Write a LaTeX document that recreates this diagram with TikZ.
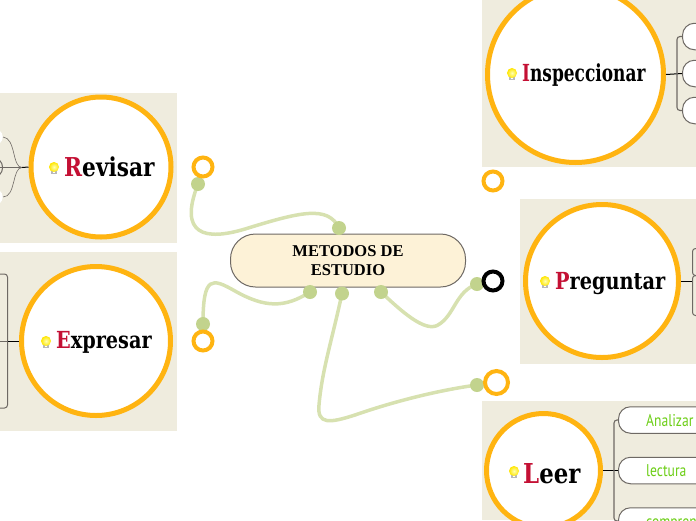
\documentclass[tikz,border=0pt]{standalone}
\usepackage{fontspec}
\usetikzlibrary{backgrounds, shapes.geometric}
\setmainfont{Liberation Serif}
\newfontfamily\slabfont[FakeStretch=0.86]{DejaVu Serif}
\newfontfamily\narrowfont[FakeStretch=0.8]{PT Sans}
\definecolor{panelcolor}{RGB}{239, 236, 222}
\definecolor{ringcolor}{RGB}{255, 180, 17}
\definecolor{linkcolor}{RGB}{215, 225, 176}
\definecolor{dotcolor}{RGB}{194, 211, 141}
\definecolor{rootcolor}{RGB}{253, 242, 215}
\definecolor{initialcolor}{RGB}{196, 16, 52}
\definecolor{leafcolor}{RGB}{108, 206, 22}
\definecolor{edgecolor}{RGB}{110, 105, 100}
\newcommand{\topictext}[3]{\scalebox{#1}[1]{\textcolor{initialcolor}{#2}#3}}
\tikzset{
    panel/.style={fill=panelcolor, draw=none},
    topic/.style={circle, draw=ringcolor, line width=5pt, fill=white, inner sep=0pt, minimum size=#1},
    ring/.style={circle, draw=ringcolor, line width=4pt, fill=white, inner sep=0pt, minimum size=#1},
    dot/.style={circle, fill=dotcolor, inner sep=0pt, minimum size=14pt},
    link/.style={linkcolor, line width=3.5pt, line cap=round},
    root/.style={rounded corners=25pt, draw=edgecolor, line width=1pt, fill=rootcolor, minimum width=235pt, minimum height=53pt, align=center, inner sep=0pt, font=\fontsize{16.5}{19.5}\selectfont\bfseries},
    leaf/.style={rounded corners=12pt, draw=edgecolor, line width=1pt, fill=white, minimum height=26.5pt, minimum width=90pt, inner sep=0pt},
    stub/.style={rectangle, rounded corners=3pt, draw=edgecolor, line width=1pt, inner sep=0pt},
    blob/.style={ellipse, fill=white, inner sep=0pt, minimum width=24pt, minimum height=19pt},
    branch/.style={edgecolor, line width=1.1pt, rounded corners=3pt},
    thinbranch/.style={edgecolor, line width=0.6pt},
    stem/.style={black, line width=1pt},
    title/.style={font=\slabfont\fontsize{#1}{#1}\selectfont\bfseries, inner sep=0pt, anchor=base west},
    leaftext/.style={font=\narrowfont\fontsize{17}{17}\selectfont, text=leafcolor, inner sep=0pt, anchor=base west},
    pics/bulb/.style={code={
        \fill[gray!55] (-2.6,2) rectangle (2.6,7);
        \fill[white] (-1.2,4) rectangle (1.2,6);
        \shade[inner color=yellow!30, outer color=yellow!80!orange] (0,0) circle (5);
    }}
}
\begin{document}
\begin{tikzpicture}[x=1pt, y=-1pt]
    \useasboundingbox (0,0) rectangle (696,520);

    % fondos
    \fill[panel] (0,93) rectangle (177,243);
    \fill[panel] (0,252) rectangle (177,431);
    \fill[panel] (482,0) rectangle (696,167);
    \fill[panel] (520,199) rectangle (696,364);
    \fill[panel] (482,401) rectangle (696,520);

    % hojas
    \node[leaf, anchor=west] (insA) at (682,36.5) {};
    \node[leaf, anchor=west] (insB) at (682,73.5) {};
    \node[leaf, anchor=west] (insC) at (682,110.5) {};
    \node[leaf, anchor=west] (leeA) at (618,420) {};
    \node[leaf, anchor=west] (leeB) at (618,470.5) {};
    \node[leaf, anchor=west] (leeC) at (618,521) {};
    \node[leaftext] at (646,426) {Analizar};
    \node[leaftext] at (646,476) {lectura};
    \node[leaftext] at (646,527) {comprensión};
    \node[stub, minimum width=40pt, minimum height=27pt, anchor=north west] (preA) at (692,248) {};
    \node[stub, minimum width=40pt, minimum height=40pt, anchor=north west] (preB) at (692,275) {};
    \node[stub, minimum width=100pt, minimum height=134pt, anchor=east] (expA) at (8,341) {};
    \node[blob, anchor=east] (revA) at (3,137) {};
    \node[stub, rounded corners=9pt, minimum width=24pt, minimum height=19pt, anchor=east] (revB) at (3,167.5) {};
    \node[blob, anchor=east] (revC) at (3,197) {};
    \coordinate (revJoin) at (22,167.5);

    % nodo central
    \node[root] (main) at (348,260.5) {METODOS DE\\ESTUDIO};

    % temas
    \node[topic=140pt] (revisar) at (101,167) {};
    \node[topic=149pt] (expresar) at (96,341) {};
    \node[topic=176pt] (inspeccionar) at (575.5,74.5) {};
    \node[topic=153pt] (preguntar) at (602,281) {};
    \node[topic=114pt] (leer) at (543.5,470.5) {};

    % puntos y anillos
    \node[dot] (dotTop) at (339,228) {};
    \node[dot] (dotExp) at (310,292) {};
    \node[dot] (dotLee) at (342,293.5) {};
    \node[dot] (dotPre) at (381,292) {};
    \node[dot] (endRev) at (198,184) {};
    \node[dot] (endExp) at (203,324) {};
    \node[dot] (endPre) at (477,284) {};
    \node[dot] (endLee) at (477,385) {};
    \node[ring=19pt] (ringRev) at (203,167) {};
    \node[ring=19pt] (ringExp) at (203,341) {};
    \node[ring=19pt] (ringIns) at (493,181) {};
    \node[ring=19pt, draw=black] (ringPre) at (493,281) {};
    \node[ring=23pt] (ringLee) at (496.5,382.5) {};

    % enlaces
    \begin{scope}[on background layer]
    \draw[link] (dotTop.center) .. controls (328,205) and (300,212) .. (245,229)
        .. controls (205,241) and (178,235) .. (endRev.center);
    \draw[link] (dotExp.center) .. controls (285,308) and (265,308) .. (235,291)
        .. controls (212,278) and (203,275) .. (endExp.center);
    \draw[link] (dotLee.center) .. controls (332,340) and (322,370) .. (319,405)
        .. controls (317,425) and (330,423) .. (355,415)
        .. controls (395,401) and (440,390) .. (endLee.center);
    \draw[link] (dotPre.center) .. controls (400,310) and (425,333) .. (438,325)
        .. controls (455,315) and (455,292) .. (endPre.center);
    \end{scope}

    % ramas
    \draw[stem] (inspeccionar.east) -- (insB.west);
    \draw[branch] (insA.west) -- (677,36.5) -- (677,110.5) -- (insC.west);
    \draw[stem] (preguntar.east) -- (692,281);
    \draw[stem] (leer.east) -- (leeB.west);
    \draw[branch] (leeA.west) -- (614,420) -- (614,521) -- (leeC.west);
    \draw[stem] (expresar.west) -- (expA.east);
    \draw[thinbranch, line width=1pt] (expA.east) -- (0,341);
    \draw[stem] (revisar.west) -- (revJoin);
    \draw[thinbranch] (revJoin) -- (revB.east) -- (0,167.5);
    \draw[thinbranch] (revJoin) .. controls (12,167.5) and (16,138) .. (revA.east);
    \draw[thinbranch] (revJoin) .. controls (12,167.5) and (16,197) .. (revC.east);

    % titulos
    \pic at (512,73) {bulb};
    \node[title=23.5] at (522,81) {\topictext{0.84}{I}{nspeccionar}};
    \pic at (545,281) {bulb};
    \node[title=23.5] at (555,289) {\topictext{0.955}{P}{reguntar}};
    \pic at (514,471) {bulb};
    \node[title=27.4] at (523,483) {\topictext{0.97}{L}{eer}};
    \pic at (54,167) {bulb};
    \node[title=26] at (64,176) {\topictext{0.97}{R}{evisar}};
    \pic at (46,341) {bulb};
    \node[title=23.5] at (56,348.5) {\topictext{0.953}{E}{xpresar}};
\end{tikzpicture}
\end{document}
